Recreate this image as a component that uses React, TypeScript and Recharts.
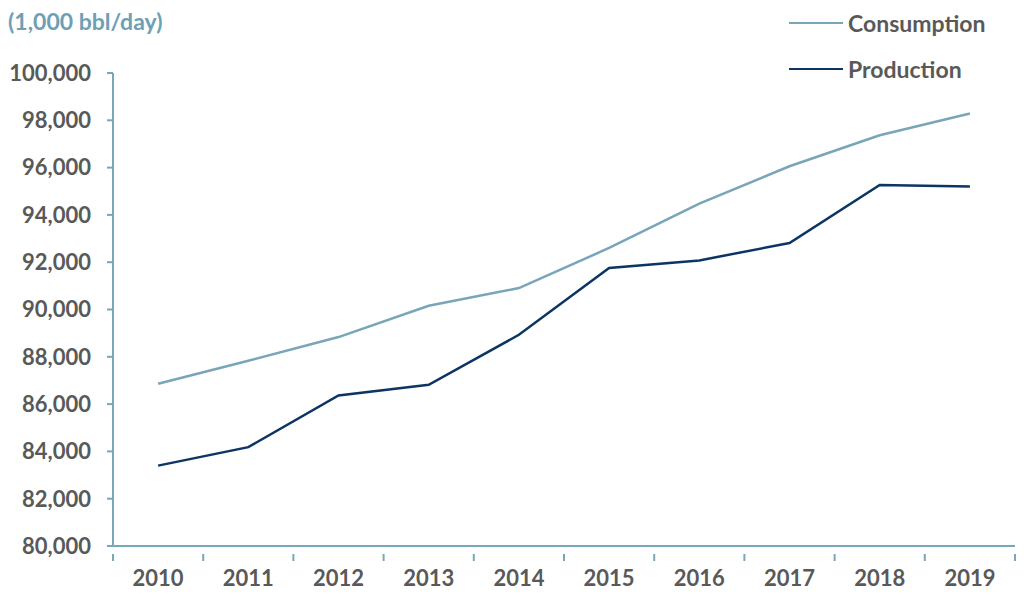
import { LineChart, Line, XAxis, YAxis } from "recharts"

// (1,000 bbl/day)
const years = ["2010", "2011", "2012", "2013", "2014", "2015", "2016", "2017", "2018", "2019"]
const consumption = [86857, 87830, 88834, 90159, 90908, 92601, 94476, 96056, 97369, 98286]
const production = [83399, 84178, 86362, 86815, 88931, 91754, 92076, 92812, 95268, 95196]
const yTicks = [80000, 82000, 84000, 86000, 88000, 90000, 92000, 94000, 96000, 98000, 100000]

const data = years.map((year, i) => ({
  year,
  consumption: consumption[i],
  production: production[i],
}))

const W = 1024
const H = 597
const M = { top: 73, right: 9, left: 0, bottom: 0 }
const Y_AXIS_W = 113
const X_AXIS_H = 51
const band = (W - M.left - M.right - Y_AXIS_W) / years.length

const FONT = "Lato, 'Open Sans', sans-serif"
const AXIS = "#7aa6ba"
const LIGHT = "#79a5b9"
const DARK = "#0d3563"
const TEXT = "#595959"

function YearTick(props: any) {
  const { x, y, payload, index } = props
  const last = index === years.length - 1
  return (
    <g>
      <line x1={x - band / 2} y1={y} x2={x - band / 2} y2={y + 7} stroke={AXIS} strokeWidth={2} />
      {last && <line x1={x + band / 2} y1={y} x2={x + band / 2} y2={y + 7} stroke={AXIS} strokeWidth={2} />}
      <text x={x} y={y + 32} textAnchor="middle" fill={TEXT} fontSize={22} fontWeight={700} fontFamily={FONT}>
        {payload.value}
      </text>
    </g>
  )
}

function LegendBox() {
  const items = [
    { name: "Consumption", color: LIGHT },
    { name: "Production", color: DARK },
  ]
  return (
    <div style={{ position: "absolute", left: 789, top: 0 }}>
      {items.map((it) => (
        <div key={it.name} style={{ display: "flex", alignItems: "center", height: 46 }}>
          <div style={{ width: 54, height: 2.5, background: it.color, marginRight: 5 }} />
          <span style={{ color: TEXT, fontSize: 23, fontWeight: 700, fontFamily: FONT }}>{it.name}</span>
        </div>
      ))}
    </div>
  )
}

export default function App() {
  return (
    <div style={{ position: "absolute", left: 0, top: 0, width: W, height: H, background: "#fff" }}>
      <div
        style={{
          position: "absolute",
          left: 8,
          top: 7,
          color: "#6e9fb5",
          fontSize: 23,
          fontWeight: 700,
          fontFamily: FONT,
          zIndex: 2,
        }}
      >
        (1,000 bbl/day)
      </div>
      <LegendBox />
      <LineChart width={W} height={H} data={data} margin={M}>
        <XAxis
          dataKey="year"
          height={X_AXIS_H}
          padding={{ left: band / 2, right: band / 2 }}
          tickLine={false}
          axisLine={{ stroke: AXIS, strokeWidth: 2 }}
          tick={<YearTick />}
          interval={0}
        />
        <YAxis
          width={Y_AXIS_W}
          domain={[80000, 100000]}
          ticks={yTicks}
          interval={0}
          tickSize={6}
          tickMargin={16}
          tickLine={{ stroke: AXIS, strokeWidth: 2 }}
          axisLine={{ stroke: AXIS, strokeWidth: 2 }}
          tickFormatter={(v: number) => v.toLocaleString("en-US")}
          tick={{ fill: TEXT, fontSize: 22, fontWeight: 700, fontFamily: FONT }}
        />
        <Line
          dataKey="consumption"
          name="Consumption"
          stroke={LIGHT}
          strokeWidth={2.5}
          dot={false}
          isAnimationActive={false}
        />
        <Line
          dataKey="production"
          name="Production"
          stroke={DARK}
          strokeWidth={2.5}
          dot={false}
          isAnimationActive={false}
        />
      </LineChart>
    </div>
  )
}
